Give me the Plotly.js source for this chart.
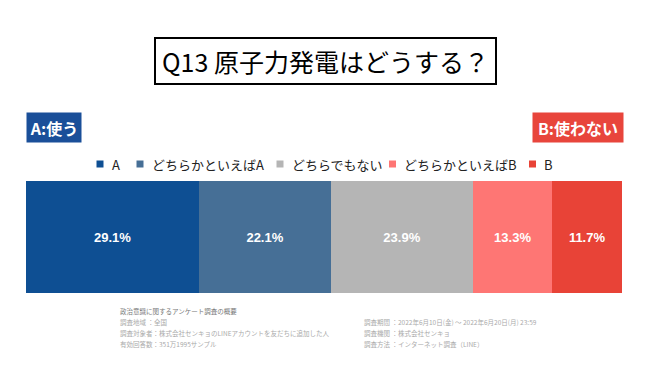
<!DOCTYPE html>
<html><head><meta charset="utf-8">
<script src="https://cdn.plot.ly/plotly-3.0.1.min.js"></script>
<style>html,body{margin:0;padding:0;background:#fff}#chart{width:650px;height:366px}</style>
</head><body><div id="chart"></div>
<script>
const categories = ["A", "どちらかといえばA", "どちらでもない", "どちらかといえばB", "B"];
const values = [29.1, 22.1, 23.9, 13.3, 11.7];
const colors = ["#0e4f93", "#466f96", "#b5b5b5", "#fe7674", "#e84337"];
const question = "Q13 原子力発電はどうする？";
const footerLeft = ["政治意識に関するアンケート調査の概要", "調査地域 ：全国", "調査対象者：株式会社センキョのLINEアカウントを友だちに追加した人", "有効回答数：351万1995サンプル"];
const footerRight = ["調査期間 ：2022年6月10日(金) 〜 2022年6月20日(月) 23:59", "調査機関 ：株式会社センキョ", "調査方法 ：インターネット調査（LINE）"];

const jp = '"Noto Sans CJK JP", "Noto Sans", sans-serif';
const traces = categories.map((c, i) => ({
  type: 'bar', orientation: 'h', name: c,
  x: [values[i]], y: ['Q13'],
  marker: {color: colors[i], line: {width: 0}},
  text: [values[i].toFixed(1) + '%'], textposition: 'inside', insidetextanchor: 'middle',
  textfont: {color: '#ffffff', size: 13, family: 'Arial, "Liberation Sans", sans-serif', weight: 'bold'},
  hoverinfo: 'skip', showlegend: false
}));

const px2x = px => (px - 26) / 596;
const px2y = py => (293 - py) / 112;
const ann = [
  {text: question, xref: 'paper', yref: 'paper', x: px2x(325.5), y: px2y(61), xanchor: 'center', yanchor: 'middle',
   showarrow: false, font: {size: 25, color: '#000', family: jp}, bordercolor: '#000', borderwidth: 2,
   width: 337, height: 42, bgcolor: '#fff'},
  {text: '<b>A:使う</b>', xref: 'paper', yref: 'paper', x: px2x(26), y: px2y(127.5), xanchor: 'left', yanchor: 'middle',
   showarrow: false, font: {size: 16, color: '#fff', family: jp}, bgcolor: '#1a4f99', width: 52, height: 27},
  {text: '<b>B:使わない</b>', xref: 'paper', yref: 'paper', x: px2x(624), y: px2y(127.5), xanchor: 'right', yanchor: 'middle',
   showarrow: false, font: {size: 16, color: '#fff', family: jp}, bgcolor: '#e8453c', width: 88, height: 27}
];
// legend drawn manually for compact spacing
const legendCenters = [100, 140, 280, 392.5, 532.5];
const shapes = [];
categories.forEach((c, i) => {
  const cx = legendCenters[i];
  shapes.push({type: 'rect', xref: 'paper', yref: 'paper', x0: px2x(cx - 3.5), x1: px2x(cx + 3.5),
    y0: px2y(167.5), y1: px2y(160.5), fillcolor: colors[i], line: {width: 0}});
  ann.push({text: c, xref: 'paper', yref: 'paper', x: px2x(cx + 9.5), y: px2y(164), xanchor: 'left', yanchor: 'middle',
    showarrow: false, font: {size: 13, color: '#222', family: jp}});
});
const leftY = [311, 322, 333, 344];
footerLeft.forEach((t, i) => ann.push({text: t, xref: 'paper', yref: 'paper', x: px2x(118), y: px2y(leftY[i]),
  xanchor: 'left', yanchor: 'middle', showarrow: false, font: {size: 6.5, color: i === 0 ? '#777' : '#aaa', family: jp}}));
const rightY = [322, 333, 344];
footerRight.forEach((t, i) => ann.push({text: t, xref: 'paper', yref: 'paper', x: px2x(362), y: px2y(rightY[i]),
  xanchor: 'left', yanchor: 'middle', showarrow: false, font: {size: 6.5, color: '#aaa', family: jp}}));

const layout = {
  width: 650, height: 366,
  margin: {l: 26, r: 28, t: 181, b: 73, pad: 0},
  barmode: 'stack', bargap: 0,
  paper_bgcolor: '#fff', plot_bgcolor: '#fff',
  xaxis: {range: [0, values.reduce((a, b) => a + b, 0)], visible: false, fixedrange: true},
  yaxis: {visible: false, fixedrange: true},
  showlegend: false,
  annotations: ann, shapes: shapes
};
Plotly.newPlot('chart', traces, layout, {displayModeBar: false, staticPlot: true});
</script></body></html>
